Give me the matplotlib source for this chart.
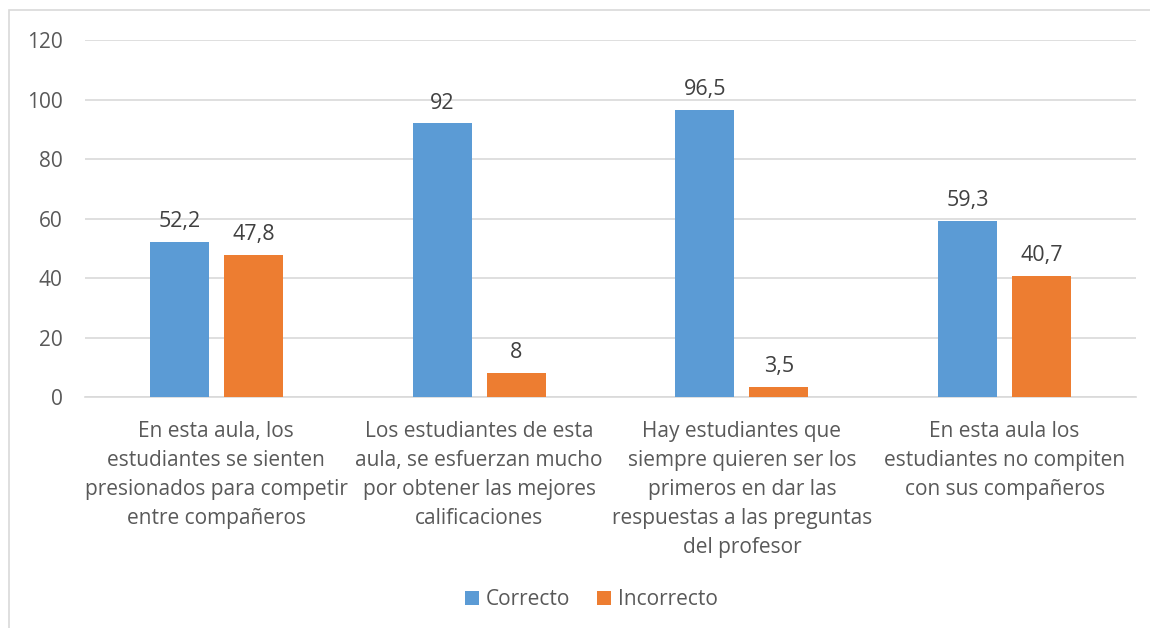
import matplotlib
matplotlib.use("Agg")
import matplotlib.pyplot as plt
from matplotlib.patches import Rectangle
import numpy as np

plt.rcParams["font.family"] = ["Open Sans", "DejaVu Sans"]

categories = [
    "En esta aula, los\nestudiantes se sienten\npresionados para competir\nentre compañeros",
    "Los estudiantes de esta\naula, se esfuerzan mucho\npor obtener las mejores\ncalificaciones",
    "Hay estudiantes que\nsiempre quieren ser los\nprimeros en dar las\nrespuestas a las preguntas\ndel profesor",
    "En esta aula los\nestudiantes no compiten\ncon sus compañeros",
]
correcto = [52.2, 92, 96.5, 59.3]
incorrecto = [47.8, 8, 3.5, 40.7]
yticks = [0, 20, 40, 60, 80, 100, 120]

blue = "#5B9BD5"
orange = "#ED7D31"
grid_c = "#D9D9D9"
text_c = "#595959"
fs = 15

fig = plt.figure(figsize=(11.5, 6.28), dpi=100)
ax = fig.add_axes([0.0739, 0.3678, 0.9139, 0.5685])

x = np.arange(len(categories))
w = 0.2246
off = 0.1408
b1 = ax.bar(x - off, correcto, w, color=blue, label="Correcto", zorder=3)
b2 = ax.bar(x + off, incorrecto, w, color=orange, label="Incorrecto", zorder=3)

def fmt(v):
    return f"{v:g}".replace(".", ",")

for bars, vals in ((b1, correcto), (b2, incorrecto)):
    for r, v in zip(bars, vals):
        ax.annotate(fmt(v), (r.get_x() + r.get_width() / 2, v),
                    xytext=(0, 7), textcoords="offset points",
                    ha="center", va="bottom", fontsize=fs + 0.5, color="#404040")

ax.set_xlim(-0.5, len(categories) - 0.5)
ax.set_ylim(0, 120)
ax.set_yticks(yticks)
ax.set_yticklabels([str(t) for t in yticks])
ax.set_xticks(x)
ax.set_xticklabels(categories, fontsize=fs, color=text_c, linespacing=1.5)
ax.tick_params(axis="y", length=0, pad=16, labelsize=fs, labelcolor=text_c)
ax.tick_params(axis="x", length=0, pad=17)
ax.grid(axis="y", color=grid_c, linewidth=1.2, zorder=0)
for s in ("top", "right", "left"):
    ax.spines[s].set_visible(False)
ax.spines["bottom"].set_color(grid_c)
ax.spines["bottom"].set_linewidth(1.2)

fig.legend(handles=[b1, b2], loc="center", bbox_to_anchor=(0.514, 0.045),
           ncol=2, frameon=False, fontsize=fs, labelcolor=text_c,
           handlelength=0.7, handleheight=0.7, handletextpad=0.3,
           columnspacing=1.3)

fig.patches.append(Rectangle((9 / 1150, -0.1), 1.2, 0.1 + 1 - 10 / 628,
                             transform=fig.transFigure, fill=False,
                             edgecolor=grid_c, linewidth=1.2))

fig.savefig("out.png", dpi=100)
